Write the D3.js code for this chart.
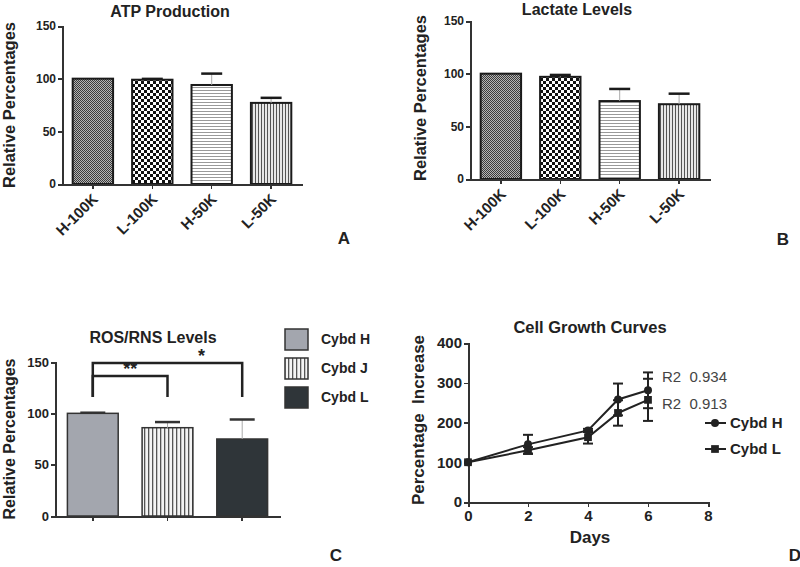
<!DOCTYPE html>
<meta charset="utf-8">
<style>
body { margin: 0; background: #fff; }
svg text { font-family: "Liberation Sans", Arial, sans-serif; fill: #222; }
.axis path, .axis line { stroke: #333; shape-rendering: crispEdges; }
.axis path { stroke-width: 2; }
.axis line { stroke-width: 1.5; }
.axis text { font-weight: bold; }
.title, .ylab, .letter, .legend text { font-weight: bold; }
</style>
<body>
<script src="https://d3js.org/d3.v7.min.js"></script>
<script>

// panel A / B
var cellCats = ["H-100K", "L-100K", "H-50K", "L-50K"];
var atpVals = [100, 99, 94, 77];
var atpErr = [0, 0.8, 10.8, 4.8];
var lacVals = [100, 97, 74, 71];
var lacErr = [0, 1.8, 11.5, 10];
var barTicks = [0, 50, 100, 150];

// panel C
var rosCats = ["Cybd H", "Cybd J", "Cybd L"];
var rosVals = [100, 86, 75];
var rosErr = [0.6, 5.5, 19];
var sigPairs = [["Cybd H", "Cybd J", "**"], ["Cybd H", "Cybd L", "*"]];

// panel D
var days = [0, 2, 4, 5, 6];
var growthH = [100, 145, 180, 258, 281];
var errH = [0, 24, 4, 40, 45];
var growthL = [100, 130, 163, 224, 257];
var errL = [0, 8, 16, 32, 53];
var r2Labels = ["R2  0.934", "R2  0.913"];
var dayTicks = [0, 2, 4, 6, 8];
var growthTicks = [0, 100, 200, 300, 400];

var svg = d3.select("body").append("svg")
    .attr("width", 800)
    .attr("height", 567);

var defs = svg.append("defs");
function pattern(id, w, h, bg, rects) {
  var p = defs.append("pattern").attr("id", id)
      .attr("patternUnits", "userSpaceOnUse")
      .attr("width", w).attr("height", h);
  p.append("rect").attr("width", w).attr("height", h).attr("fill", bg);
  rects.forEach(function(r){
    p.append("rect").attr("x", r[0]).attr("y", r[1])
      .attr("width", r[2]).attr("height", r[3]).attr("fill", r[4]);
  });
}
pattern("dots", 2, 2, "#b4b4b4", [[0,0,1,1,"#3a3a3a"],[1,1,1,1,"#3a3a3a"]]);
pattern("checker", 6, 6, "#fff", [[0,0,3,3,"#111"],[3,3,3,3,"#111"]]);
pattern("hlines", 4, 3, "#fff", [[0,0,4,1,"#999"]]);
pattern("vlines", 3, 4, "#e8e8e8", [[0,0,1,4,"#555"]]);
pattern("vlinesJ", 4, 4, "#f4f4f4", [[0,0,1.3,4,"#555"]]);

var barFills = ["url(#dots)", "url(#checker)", "url(#hlines)", "url(#vlines)"];

function label(g, cls, text, x, y, size, rot) {
  var t = g.append("text").attr("class", cls)
      .attr("text-anchor", "middle")
      .style("font-size", size + "px")
      .text(text);
  if (rot) t.attr("transform", "translate(" + x + "," + y + ") rotate(-90)");
  else t.attr("x", x).attr("y", y);
  return t;
}

function errorBars(g, cats, vals, errs, x, y, capW, capCol) {
  var cx = function(d){ return x(d) + x.bandwidth()/2; };
  var top = function(d){ var i = cats.indexOf(d); return y(vals[i] + errs[i]); };
  var e = g.append("g").selectAll("g").data(cats).enter().append("g");
  e.append("line")
      .attr("x1", cx).attr("x2", cx)
      .attr("y1", function(d){ return y(vals[cats.indexOf(d)]); })
      .attr("y2", top)
      .attr("stroke", "#aaa").attr("stroke-width", 1);
  e.filter(function(d){ return errs[cats.indexOf(d)] > 0; }).append("line")
      .attr("x1", function(d){ return cx(d) - capW/2; })
      .attr("x2", function(d){ return cx(d) + capW/2; })
      .attr("y1", top).attr("y2", top)
      .attr("stroke", capCol).attr("stroke-width", 2.5);
}

function barPanel(o) {
  var g = svg.append("g");
  var x = d3.scaleBand().domain(cellCats).range([o.x0, o.x0 + 240])
      .paddingInner(0.32).paddingOuter(0.18);
  var y = d3.scaleLinear().domain([0, 150]).range([o.yb, o.yt]);

  g.append("g").selectAll("rect").data(cellCats).enter().append("rect")
      .attr("x", function(d){ return x(d); })
      .attr("y", function(d, i){ return y(o.vals[i]); })
      .attr("width", x.bandwidth())
      .attr("height", function(d, i){ return y(0) - y(o.vals[i]); })
      .attr("fill", function(d, i){ return barFills[i]; })
      .attr("stroke", "#1a1a1a").attr("stroke-width", 2);

  errorBars(g, cellCats, o.vals, o.errs, x, y, 21, "#1a1a1a");

  g.append("g").attr("class", "axis")
      .attr("transform", "translate(" + o.x0 + ",0)")
      .call(d3.axisLeft(y).tickValues(barTicks).tickSize(4).tickPadding(2))
      .selectAll("text").style("font-size", "12px");

  g.append("g").attr("class", "axis")
      .attr("transform", "translate(0," + o.yb + ")")
      .call(d3.axisBottom(x).tickSize(5).tickSizeOuter(0))
      .selectAll("text")
        .style("font-size", "15px")
        .style("text-anchor", "end")
        .attr("x", 0).attr("y", 0).attr("dy", 0)
        .attr("transform", "translate(6,16) rotate(-45)");

  label(g, "title", o.title, o.tx, o.ty, 16);
  label(g, "ylab", "Relative Percentages", o.lx, o.ly, 16.5, true);
  label(g, "letter", o.letter, o.px, o.py, 17);
}

barPanel({vals: atpVals, errs: atpErr, x0: 62, yt: 26, yb: 184,
  title: "ATP Production", tx: 170, ty: 17, lx: 15, ly: 105,
  letter: "A", px: 344, py: 244});
barPanel({vals: lacVals, errs: lacErr, x0: 470, yt: 21, yb: 179,
  title: "Lactate Levels", tx: 577, ty: 15, lx: 426, ly: 98,
  letter: "B", px: 783, py: 245});

// panel C
(function(){
  var g = svg.append("g");
  var x = d3.scaleBand().domain(rosCats).range([55, 280])
      .paddingInner(0.32).paddingOuter(0.166);
  var y = d3.scaleLinear().domain([0, 150]).range([516, 362]);
  var fills = ["#a3a6ae", "url(#vlinesJ)", "#2f3539"];
  var cx = function(d){ return x(d) + x.bandwidth()/2; };

  g.append("g").selectAll("rect").data(rosCats).enter().append("rect")
      .attr("x", function(d){ return x(d); })
      .attr("y", function(d, i){ return y(rosVals[i]); })
      .attr("width", x.bandwidth())
      .attr("height", function(d, i){ return y(0) - y(rosVals[i]); })
      .attr("fill", function(d, i){ return fills[i]; })
      .attr("stroke", "#333").attr("stroke-width", 1.5);

  errorBars(g, rosCats, rosVals, rosErr, x, y, 25, "#333");

  g.append("g").attr("class", "axis")
      .attr("transform", "translate(55,0)")
      .call(d3.axisLeft(y).tickValues(barTicks).tickSize(4).tickPadding(2))
      .selectAll("text").style("font-size", "13px");
  g.append("g").attr("class", "axis")
      .attr("transform", "translate(0,516)")
      .call(d3.axisBottom(x).tickSize(5).tickSizeOuter(0).tickFormat(""));

  // significance brackets
  var levels = [376, 363];
  sigPairs.forEach(function(p, i){
    var yl = levels[i];
    g.append("path")
        .attr("d", "M" + cx(p[0]) + ",397V" + yl + "H" + cx(p[1]) + "V397")
        .attr("fill", "none").attr("stroke", "#222").attr("stroke-width", 2.5);
    g.append("text").attr("class", "title")
        .attr("x", (cx(p[0]) + cx(p[1])) / 2 + (i ? 34 : 0))
        .attr("y", yl - 1)
        .attr("text-anchor", "middle")
        .style("font-size", "18px")
        .text(p[2]);
  });

  var lg = g.append("g").attr("class", "legend");
  lg.selectAll("rect").data(rosCats).enter().append("rect")
      .attr("x", 285).attr("y", function(d, i){ return 329 + i * 29; })
      .attr("width", 23).attr("height", 21)
      .attr("fill", function(d, i){ return fills[i]; })
      .attr("stroke", "#333").attr("stroke-width", 1.5);
  lg.selectAll("text").data(rosCats).enter().append("text")
      .attr("x", 321).attr("y", function(d, i){ return 344 + i * 29; })
      .style("font-size", "14px")
      .text(function(d){ return d; });

  label(g, "title", "ROS/RNS Levels", 153, 343, 16);
  label(g, "ylab", "Relative Percentages", 15, 439, 16, true);
  label(g, "letter", "C", 336, 561, 17);
})();

// panel D
(function(){
  var g = svg.append("g");
  var x = d3.scaleLinear().domain([0, 8]).range([468, 708]);
  var y = d3.scaleLinear().domain([0, 400]).range([502, 343]);
  var series = [
    {name: "Cybd H", v: growthH, e: errH, shape: d3.symbolCircle, size: 50},
    {name: "Cybd L", v: growthL, e: errL, shape: d3.symbolSquare, size: 60}
  ];

  g.append("g").attr("class", "axis")
      .attr("transform", "translate(468,0)")
      .call(d3.axisLeft(y).tickValues(growthTicks).tickSize(4).tickPadding(2))
      .selectAll("text").style("font-size", "15px");
  g.append("g").attr("class", "axis")
      .attr("transform", "translate(0,502)")
      .call(d3.axisBottom(x).tickValues(dayTicks).tickSize(5).tickPadding(3))
      .selectAll("text").style("font-size", "15px");

  var line = d3.line()
      .x(function(d, i){ return x(days[i]); })
      .y(function(d){ return y(d); });

  series.forEach(function(s){
    var sg = g.append("g");
    var eb = sg.selectAll(".eb").data(days).enter().append("g")
        .filter(function(d, i){ return s.e[i] > 0; });
    eb.append("line")
        .attr("x1", function(d){ return x(d); }).attr("x2", function(d){ return x(d); })
        .attr("y1", function(d){ var i = days.indexOf(d); return y(s.v[i] - s.e[i]); })
        .attr("y2", function(d){ var i = days.indexOf(d); return y(s.v[i] + s.e[i]); })
        .attr("stroke", "#222").attr("stroke-width", 2);
    [-1, 1].forEach(function(k){
      eb.append("line")
          .attr("x1", function(d){ return x(d) - 5; }).attr("x2", function(d){ return x(d) + 5; })
          .attr("y1", function(d){ var i = days.indexOf(d); return y(s.v[i] + k * s.e[i]); })
          .attr("y2", function(d){ var i = days.indexOf(d); return y(s.v[i] + k * s.e[i]); })
          .attr("stroke", "#222").attr("stroke-width", 2);
    });
    sg.append("path").datum(s.v).attr("d", line)
        .attr("fill", "none").attr("stroke", "#222").attr("stroke-width", 2);
    sg.selectAll("path.m").data(s.v).enter().append("path").attr("class", "m")
        .attr("transform", function(d, i){ return "translate(" + x(days[i]) + "," + y(d) + ")"; })
        .attr("d", d3.symbol().type(s.shape).size(s.size))
        .attr("fill", "#222");
  });

  g.selectAll(".r2").data(r2Labels).enter().append("text")
      .attr("x", 662).attr("y", function(d, i){ return 382 + i * 27; })
      .style("font-size", "15px").style("fill", "#444")
      .style("white-space", "pre")
      .text(function(d){ return d; });

  var lg = g.append("g").attr("class", "legend");
  series.forEach(function(s, i){
    var yy = 423 + i * 26;
    lg.append("line").attr("x1", 705).attr("x2", 726).attr("y1", yy).attr("y2", yy)
        .attr("stroke", "#222").attr("stroke-width", 2);
    lg.append("path").attr("transform", "translate(715," + yy + ")")
        .attr("d", d3.symbol().type(s.shape).size(s.size)).attr("fill", "#222");
    lg.append("text").attr("x", 730).attr("y", yy + 5)
        .style("font-size", "15px").text(s.name);
  });

  label(g, "title", "Cell Growth Curves", 590, 333, 16.5);
  label(g, "ylab", "Percentage  Increase", 424, 420, 17, true).style("white-space", "pre");
  label(g, "title", "Days", 590, 543, 17);
  label(g, "letter", "D", 795, 561, 17);
})();

</script>
</body>
